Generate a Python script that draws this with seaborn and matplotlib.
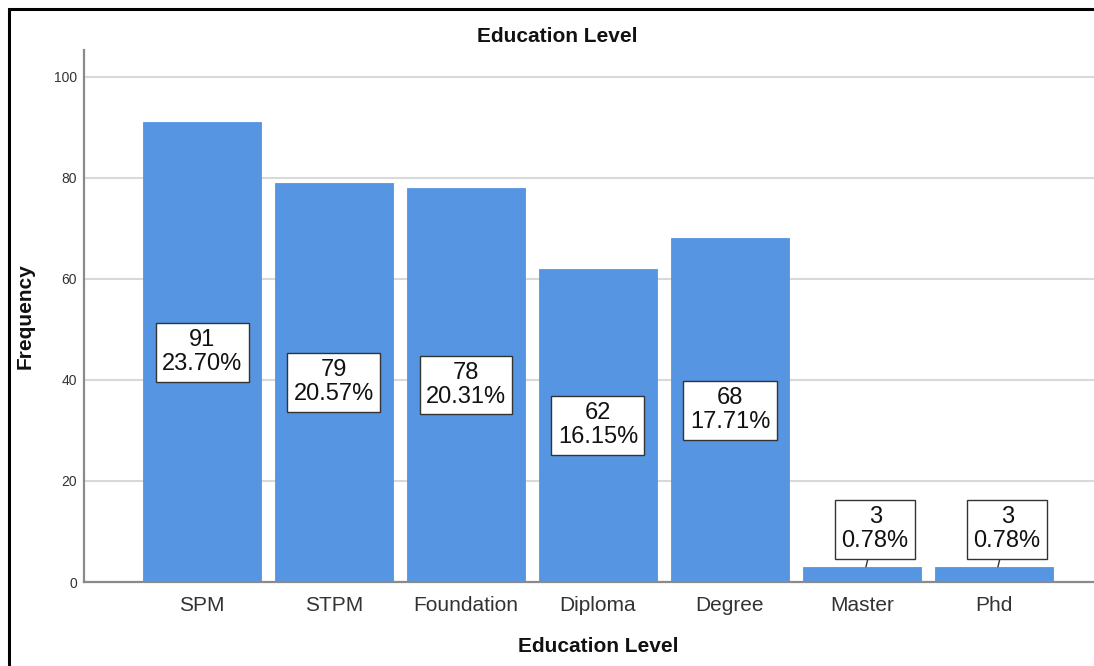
import matplotlib
matplotlib.use("Agg")
import matplotlib.pyplot as plt
from matplotlib.patches import Rectangle
import seaborn as sns
import pandas as pd

# Education level frequencies
categories = ["SPM", "STPM", "Foundation", "Diploma", "Degree", "Master", "Phd"]
counts = [91, 79, 78, 62, 68, 3, 3]
y_ticks = [0, 20, 40, 60, 80, 100]

total = sum(counts)
percents = [c / total * 100 for c in counts]

sns.set_theme(style="white")
plt.rcParams["font.family"] = ["Liberation Sans", "DejaVu Sans"]

W, H = 1094, 666
fig = plt.figure(figsize=(W / 100, H / 100), dpi=100)
ax = fig.add_axes([84 / W, 1 - 582 / H, 1 - 84 / W, (582 - 50) / H])

df = pd.DataFrame({"level": categories, "freq": counts})
bar_color = "#5595E1"
sns.barplot(data=df, x="level", y="freq", color=bar_color, saturation=1,
            width=0.894, edgecolor=bar_color, linewidth=0.6, ax=ax)

ax.set_xlim(-0.894, 6.758)
ax.set_ylim(0, 105.3)
ax.set_yticks(y_ticks)
ax.yaxis.grid(True, color="#d9d9d9", lw=1.5)
ax.set_axisbelow(True)
for side in ["top", "right"]:
    ax.spines[side].set_visible(False)
for side in ["left", "bottom"]:
    ax.spines[side].set_color("#8a8a8a")
    ax.spines[side].set_linewidth(1.6)
ax.tick_params(axis="y", length=0, pad=5, labelsize=10, labelcolor="#333333")
ax.tick_params(axis="x", length=0, pad=10, labelsize=15, labelcolor="#333333")
ax.set_xlabel("")
ax.set_ylabel("")

# Value labels: count and share
box = dict(boxstyle="square,pad=0.27", fc="white", ec="#333333", lw=1.0)
for i, (c, p) in enumerate(zip(counts, percents)):
    label = f"{c}\n{p:.2f}%"
    if c > 15:
        ax.text(i, c / 2, label, ha="center", va="center", fontsize=17,
                linespacing=1.12, color="#111111", bbox=box)
    else:
        ax.annotate(label, xy=(i + 0.03, c), xytext=(i + 0.1, 10.4),
                    ha="center", va="center", fontsize=17, linespacing=1.12,
                    color="#111111", bbox=box,
                    arrowprops=dict(arrowstyle="-", color="#333333", lw=1.0,
                                    shrinkA=0, shrinkB=0))

fig.text(557 / W, 1 - 37 / H, "Education Level", ha="center", va="center",
         fontsize=15, fontweight="bold", color="#111111")
fig.text(598 / W, 1 - 647 / H, "Education Level", ha="center", va="center",
         fontsize=15, fontweight="bold", color="#111111")
fig.text(25 / W, 1 - 316 / H, "Frequency", ha="center", va="center",
         rotation=90, fontsize=15, fontweight="bold", color="#111111")

# Outer frame
fig.patches.append(Rectangle((8.5 / W, -0.2), 2.0, 1 - 8.5 / H + 0.2, fill=False,
                             ec="black", lw=2.2, transform=fig.transFigure,
                             figure=fig))

fig.savefig("out.png", dpi=100)
